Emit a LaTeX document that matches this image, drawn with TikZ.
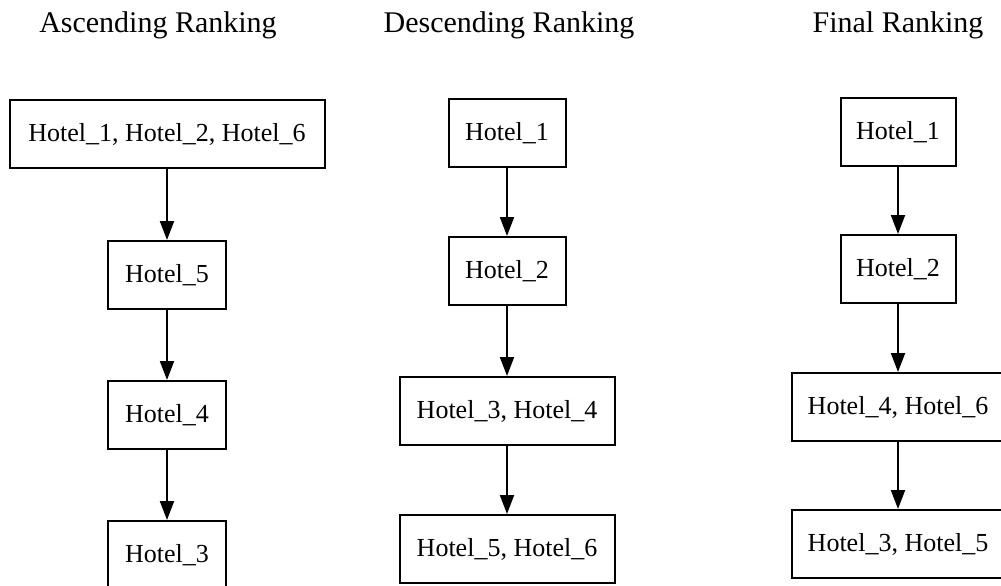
\documentclass[tikz,border=0pt]{standalone}
\usepackage{fontspec}
\setmainfont{Liberation Serif}
\usetikzlibrary{arrows.meta}

\tikzset{
  rank/.style={draw,line width=2pt,fill=white,minimum height=68pt,inner sep=0pt,
    font=\fontsize{26}{30}\selectfont},
  heading/.style={anchor=base,font=\fontsize{30}{36}\selectfont},
  link/.style={line width=2pt,-{Triangle[length=19pt,width=14pt]}}
}

\begin{document}
\begin{tikzpicture}[x=1pt,y=-1pt]
\clip (0,0) rectangle (1001,586);
\def\xa{167}
\def\xd{507}
\def\xf{898}

% headings
\node[heading] (hasc) at (158,33) {Ascending Ranking};
\node[heading] (hdesc) at (509,33) {Descending Ranking};
\node[heading] (hfin) at (\xf,33) {Final Ranking};

% ascending
\node[rank,minimum width=315pt] (a1) at (\xa,134) {Hotel\_1, Hotel\_2, Hotel\_6};
\foreach \n/\y/\t in {2/275/Hotel\_5,3/415/Hotel\_4,4/555/Hotel\_3}
  \node[rank,minimum width=118pt] (a\n) at (\xa,\y) {\t};

% descending
\foreach \n/\y/\t in {1/133/Hotel\_1,2/271/Hotel\_2}
  \node[rank,minimum width=117pt] (d\n) at (\xd,\y) {\t};
\foreach \n/\y/\t in {3/411/{Hotel\_3, Hotel\_4},4/549/{Hotel\_5, Hotel\_6}}
  \node[rank,minimum width=215pt] (d\n) at (\xd,\y) {\t};

% final
\foreach \n/\y/\t in {1/132/Hotel\_1,2/269/Hotel\_2}
  \node[rank,minimum width=115pt] (f\n) at (\xf,\y) {\t};
\foreach \n/\y/\t in {3/407/{Hotel\_4, Hotel\_6},4/544/{Hotel\_3, Hotel\_5}}
  \node[rank,minimum width=212pt] (f\n) at (\xf,\y) {\t};

\foreach \i[count = \j from 2] in {1,2,3} {
  \draw[link] (a\i) -- (a\j);
  \draw[link] (d\i) -- (d\j);
  \draw[link] (f\i) -- (f\j);
}
\end{tikzpicture}
\end{document}
